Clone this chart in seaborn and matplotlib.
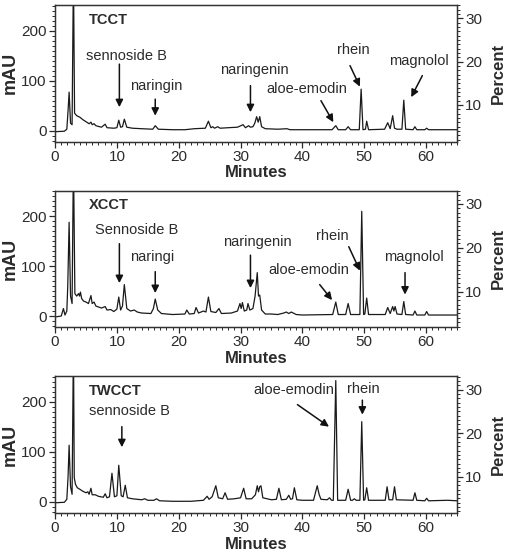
import matplotlib
matplotlib.use("Agg")
import matplotlib.pyplot as plt
from matplotlib.ticker import MultipleLocator
import seaborn as sns
import pandas as pd

# ---- chromatogram traces (minutes, mAU) ----
tcct_min = [0.0, 1.5, 1.9, 2.1, 2.27, 2.5, 2.75, 2.97, 3.15, 3.5, 4.0, 4.5, 5.0, 5.5, 5.8, 6.0,
            6.3, 6.6, 7.5, 8.1, 8.4, 9.5, 10.0, 10.3, 10.6, 10.9, 11.2, 11.6, 12.5, 14.0, 15.8,
            16.2, 16.7, 19.0, 21.0, 22.5, 24.3, 24.8, 25.2, 25.5, 25.8, 26.3, 26.7, 28.0, 29.5,
            30.4, 30.8, 31.3, 31.6, 32.0, 32.3, 32.6, 32.85, 33.1, 33.4, 34.0, 36.0, 37.5, 38.0,
            40.0, 44.8, 45.4, 45.8, 47.0, 47.4, 47.8, 49.2, 49.5, 49.8, 50.2, 50.4, 50.7, 53.3,
            53.8, 54.2, 54.6, 54.9, 55.3, 56.1, 56.4, 56.7, 57.9, 58.2, 58.5, 59.8, 60.1, 60.4, 65.0]
tcct_mau = [-2, -1, 3, 40, 77, 15, 12, 320, 35, 30, 27, 22, 18, 14, 17, 12,
            14, 10, 7, 13, 6, 5, 6, 21, 7, 8, 23, 7, 5, 4, 3,
            10, 3, 2, 2, 4, 5, 19, 6, 8, 5, 8, 5, 6, 7,
            12, 6, 10, 7, 8, 15, 28, 17, 28, 8, 4, 3, 4, 2,
            2, 2, 10, 2, 2, 8, 2, 2, 83, 2, 3, 19, 2, 3,
            16, 4, 30, 5, 3, 3, 61, 3, 2, 8, 2, 2, 5, 2, 2]

xcct_min = [0.0, 1.0, 1.35, 1.6, 1.9, 2.05, 2.27, 2.5, 2.75, 2.97, 3.2, 3.5, 3.8, 3.95, 4.1, 4.3,
            4.6, 5.0, 5.4, 5.8, 6.0, 6.3, 6.6, 7.5, 8.1, 8.4, 9.0, 9.5, 10.0, 10.3, 10.6, 10.9,
            11.2, 11.6, 12.2, 12.8, 13.3, 14.0, 15.5, 15.9, 16.2, 16.6, 17.2, 19.0, 21.0, 21.3,
            21.7, 22.5, 22.8, 23.2, 24.0, 24.4, 24.8, 25.2, 26.0, 26.5, 26.9, 28.5, 29.5, 29.9,
            30.1, 30.3, 30.6, 31.0, 31.2, 31.5, 32.0, 32.35, 32.7, 32.9, 33.1, 33.4, 34.0, 35.0,
            36.0, 37.0, 37.4, 37.8, 38.2, 39.0, 40.0, 44.9, 45.4, 45.8, 47.0, 47.4, 47.8, 49.3,
            49.6, 49.9, 50.1, 50.4, 50.7, 53.4, 53.8, 54.2, 54.6, 54.8, 55.0, 55.3, 56.1, 56.4,
            56.7, 57.9, 58.2, 58.5, 59.8, 60.1, 60.4, 65.0]
xcct_mau = [-2, 0, 15, 2, 10, 60, 188, 40, 25, 320, 45, 40, 45, 40, 48, 35,
            30, 28, 25, 41, 25, 28, 20, 16, 19, 12, 13, 9, 14, 38, 12, 20,
            63, 15, 10, 12, 8, 6, 5, 15, 34, 12, 5, 3, 4, 12,
            4, 5, 17, 6, 10, 8, 38, 9, 7, 15, 5, 6, 10, 25,
            15, 27, 10, 12, 25, 12, 15, 40, 87, 40, 42, 12, 4, 4,
            3, 6, 8, 5, 8, 3, 2, 3, 28, 3, 3, 25, 3, 3,
            210, 3, 4, 36, 3, 3, 17, 5, 19, 10, 19, 4, 3, 29,
            3, 2, 10, 2, 2, 9, 2, 2]

twcct_min = [0.0, 1.5, 1.9, 2.1, 2.27, 2.5, 2.75, 2.97, 3.1, 3.3, 3.6, 4.0, 4.5, 5.0, 5.3, 5.5,
             5.8, 6.0, 6.5, 7.0, 7.8, 8.1, 8.4, 8.8, 9.2, 9.6, 10.0, 10.3, 10.7, 11.0, 11.35,
             11.7, 12.5, 14.0, 14.5, 15.0, 16.0, 16.4, 16.9, 19.0, 22.0, 24.0, 24.6, 24.9, 25.4,
             26.0, 26.4, 27.1, 27.5, 27.9, 29.0, 30.0, 30.5, 30.9, 31.8, 32.4, 32.7, 32.9, 33.1,
             33.3, 33.6, 35.0, 35.8, 36.2, 36.6, 37.4, 37.8, 38.1, 38.4, 38.7, 39.1, 40.0, 41.8,
             42.4, 42.7, 43.0, 44.0, 44.4, 44.7, 45.0, 45.4, 45.7, 47.0, 47.4, 47.8, 48.1, 48.4,
             48.7, 49.3, 49.6, 49.9, 50.1, 50.4, 50.7, 53.4, 53.7, 54.0, 54.6, 54.9, 55.2, 57.9,
             58.2, 58.5, 59.8, 60.1, 60.4, 63.5, 65.0]
twcct_mau = [-2, -1, 5, 50, 113, 30, 15, 320, 48, 35, 28, 25, 21, 18, 20, 15,
             27, 14, 14, 11, 9, 16, 8, 10, 57, 10, 12, 73, 12, 10, 33,
             8, 6, 4, 6, 3, 3, 6, 2, 1, 1, 3, 11, 5, 10,
             32, 8, 6, 18, 5, 6, 8, 27, 6, 6, 14, 32, 20, 30,
             32, 8, 4, 5, 27, 4, 5, 13, 5, 6, 28, 4, 3, 3,
             32, 15, 5, 4, 8, 3, 3, 242, 3, 3, 25, 3, 3, 6,
             3, 3, 160, 3, 4, 28, 3, 3, 30, 4, 4, 30, 4, 3,
             18, 3, 2, 7, 2, 3, 2]

samples = ["TCCT", "XCCT", "TWCCT"]
traces = [(tcct_min, tcct_mau), (xcct_min, xcct_mau), (twcct_min, twcct_mau)]

# peak labels: (text, text x, text y, arrow tail x, tail y, head x, head y) in minutes / mAU
labels = [
    [("sennoside B", 11.6, 150, 10.4, 133, 10.4, 47),
     ("naringin", 16.4, 90, 16.2, 63, 16.2, 30),
     ("naringenin", 32.2, 121, 31.6, 90, 31.6, 37),
     ("aloe-emodin", 40.7, 83, 43.0, 60, 45.0, 17),
     ("rhein", 48.2, 161, 47.7, 130, 49.3, 88),
     ("magnolol", 58.9, 140, 59.4, 110, 57.6, 67)],
    [("Sennoside B", 13.2, 173, 10.4, 145, 10.4, 66),
     ("naringi", 15.75, 119, 16.2, 89, 16.2, 46),
     ("naringenin", 32.7, 149, 31.6, 122, 31.6, 56),
     ("aloe-emodin", 41.1, 92, 42.8, 63, 44.8, 32),
     ("rhein", 44.9, 160, 47.5, 139, 49.3, 91),
     ("magnolol", 58.1, 118, 56.6, 87, 56.6, 43)],
    [("sennoside B", 12.0, 182, 10.8, 150, 10.8, 109),
     ("aloe-emodin", 38.6, 223, 39.2, 194, 44.3, 150),
     ("rhein", 49.9, 225, 49.7, 203, 49.7, 174)],
]

# axes rectangles (figure fractions)
rects = [[0.108, 0.746, 0.788, 0.245],
         [0.108, 0.414, 0.788, 0.244],
         [0.108, 0.081, 0.788, 0.245]]
pct_lims = [(1.5, 33.1), (1.9, 33.0), (1.7, 33.1)]

sns.set_style("ticks")
plt.rcParams["font.family"] = ["Liberation Sans", "DejaVu Sans"]
ink = "#2b2b2b"
plt.rcParams.update({"text.color": ink, "axes.labelcolor": ink, "xtick.color": ink,
                     "ytick.color": ink, "axes.edgecolor": "#333333"})

fig = plt.figure(figsize=(5.1, 5.58), dpi=100)

for i, name in enumerate(samples):
    ax = fig.add_axes(rects[i])
    df = pd.DataFrame({"Minutes": traces[i][0], "mAU": traces[i][1]})
    sns.lineplot(data=df, x="Minutes", y="mAU", ax=ax, color="#1a1a1a", lw=0.9,
                 estimator=None, sort=False)
    ax.set_xlim(0, 65)
    ax.set_ylim(-22, 251)
    ax.xaxis.set_major_locator(MultipleLocator(10))
    ax.xaxis.set_minor_locator(MultipleLocator(1))
    ax.yaxis.set_major_locator(MultipleLocator(100))
    ax.yaxis.set_minor_locator(MultipleLocator(10))
    ax.tick_params(which="major", length=4, width=0.9, labelsize=11, pad=2)
    ax.tick_params(which="minor", length=2, width=0.7)
    for s in ax.spines.values():
        s.set_linewidth(1.0)
    ax.set_xlabel("Minutes", fontsize=12, fontweight="bold", labelpad=1)
    ax.set_ylabel("mAU", fontsize=13, fontweight="bold", labelpad=2)

    ax2 = ax.twinx()
    ax2.set_ylim(*pct_lims[i])
    ax2.yaxis.set_major_locator(MultipleLocator(10))
    ax2.yaxis.set_minor_locator(MultipleLocator(1))
    ax2.tick_params(which="major", length=4, width=0.9, labelsize=11, pad=2)
    ax2.tick_params(which="minor", length=2, width=0.7)
    ax2.set_ylabel("Percent", fontsize=12, fontweight="bold", labelpad=6)

    ax.text(5.4, 222, name, fontsize=10.5, fontweight="bold", ha="left", va="center")
    for txt, tx, ty, ax0, ay0, ax1, ay1 in labels[i]:
        ax.text(tx, ty, txt, fontsize=10.5, ha="center", va="center")
        ax.annotate("", xy=(ax1, ay1), xytext=(ax0, ay0),
                    arrowprops=dict(arrowstyle="-|>", color="#111111", lw=1.1,
                                    mutation_scale=11, shrinkA=0, shrinkB=0))

fig.savefig("out.png", dpi=100)
